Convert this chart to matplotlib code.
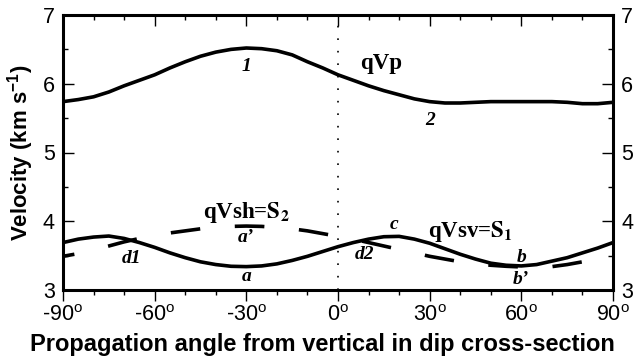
import numpy as np
import matplotlib
matplotlib.use('Agg')
import matplotlib.pyplot as plt
from matplotlib.ticker import MultipleLocator

plt.rcParams['font.family'] = 'Liberation Sans'
plt.rcParams['mathtext.fontset'] = 'custom'
plt.rcParams['mathtext.rm'] = 'Liberation Sans'
plt.rcParams['mathtext.bf'] = 'Liberation Sans:bold'

# propagation angle (deg) and velocities
angle = list(range(-90, 91, 5))
qvp = [5.74, 5.77, 5.81, 5.88, 5.97, 6.05, 6.13, 6.23, 6.32, 6.40, 6.46, 6.50, 6.52,
       6.51, 6.48, 6.42, 6.32, 6.23, 6.13, 6.05, 5.97, 5.90, 5.84, 5.78, 5.74, 5.72,
       5.72, 5.73, 5.74, 5.74, 5.74, 5.74, 5.74, 5.73, 5.71, 5.71, 5.73]
qvsv = [3.69, 3.74, 3.77, 3.785, 3.75, 3.69, 3.62, 3.54, 3.47, 3.41, 3.37, 3.345, 3.34,
        3.35, 3.38, 3.43, 3.49, 3.56, 3.63, 3.69, 3.74, 3.775, 3.78, 3.74, 3.68, 3.60,
        3.52, 3.45, 3.39, 3.36, 3.35, 3.37, 3.42, 3.47, 3.54, 3.61, 3.69]
qvsh = [3.49, 3.53, 3.58, 3.64, 3.70, 3.75, 3.80, 3.83, 3.86, 3.89, 3.91, 3.925, 3.93,
        3.925, 3.91, 3.89, 3.86, 3.82, 3.78, 3.74, 3.69, 3.64, 3.59, 3.54, 3.49, 3.45,
        3.41, 3.38, 3.36, 3.345, 3.335, 3.33, 3.34, 3.37, 3.41, 3.45, 3.50]

xticks = [-90, -60, -30, 0, 30, 60, 90]
xticklabels = [f'{t}$^{{\\rm o}}$' for t in xticks]
yticks = [3, 4, 5, 6, 7]

# curve annotations: (text, angle, velocity)
marks = [('1', -30, 6.25), ('2', 30, 5.47), ('a\u2019', -30, 3.77), ('a', -30, 3.19),
         ('d1', -67.5, 3.46), ('d2', 8.7, 3.51), ('c', 18.2, 3.95),
         ('b', 60, 3.48), ('b\u2019', 60, 3.15)]

fig = plt.figure(figsize=(6.34, 3.61), dpi=100)
ax = fig.add_axes([63 / 634, 1 - 290 / 361, 550 / 634, 275 / 361])

ax.axvline(0, color='black', lw=1.2, ls=(0, (1, 6.5)))
ax.plot(angle, qvp, color='black', lw=2.6, solid_capstyle='butt')
ax.plot(angle, qvsv, color='black', lw=2.6, solid_capstyle='butt')
ax.plot(angle, qvsh, color='black', lw=2.6, ls=(5, (8.2, 9.6)))

ax.set_xlim(-90, 90)
ax.set_ylim(3, 7)
ax.set_xticks(xticks)
ax.set_xticklabels(xticklabels, fontsize=15.5)
ax.xaxis.set_minor_locator(MultipleLocator(10))
ax.set_yticks(yticks)
ax.set_yticklabels([str(v) for v in yticks], fontsize=15.5)
ax.yaxis.set_minor_locator(MultipleLocator(0.5))

ax.tick_params(axis='x', which='both', direction='out', top=False, width=1, pad=3)
ax.tick_params(axis='x', which='major', length=8)
ax.tick_params(axis='x', which='minor', length=3.5)
ax.tick_params(axis='y', which='both', direction='in', right=True, labelright=True,
               width=1, pad=6)
ax.tick_params(axis='y', which='major', length=8)
ax.tick_params(axis='y', which='minor', length=3.5)

# inward ticks along the top edge
top = ax.secondary_xaxis('top')
top.set_xticks(xticks)
top.xaxis.set_minor_locator(MultipleLocator(10))
top.tick_params(which='both', direction='in', labeltop=False, width=1)
top.tick_params(which='major', length=8)
top.tick_params(which='minor', length=3.5)
top.spines['top'].set_visible(False)

for s in ax.spines.values():
    s.set_linewidth(2.2)

serif = 'Liberation Serif'
for txt, x, y in marks:
    ax.text(x, y, txt, family=serif, style='italic', weight='bold', fontsize=14,
            ha='center', va='center')

ax.text(14, 6.30, 'qVp', family=serif, weight='bold', fontsize=16.5, ha='center', va='center')
ax.text(-44.2, 4.13, 'qVsh=$\\mathbf{S_2}$', family=serif, weight='bold', fontsize=16.5,
        ha='left', va='center', math_fontfamily='stix')
ax.text(29.6, 3.85, 'qVsv=$\\mathbf{S_1}$', family=serif, weight='bold', fontsize=16.5,
        ha='left', va='center', math_fontfamily='stix')

ax.set_xlabel('Propagation angle from vertical in dip cross-section',
              fontsize=17, weight='bold', labelpad=3)
ax.xaxis.set_label_coords(0.471, -0.2)
ax.xaxis.label.set_va('center')
ax.set_ylabel('Velocity (km s$^{\\mathbf{-1}}$)', fontsize=16, weight='bold', labelpad=5)

fig.savefig('out.png', dpi=100)
